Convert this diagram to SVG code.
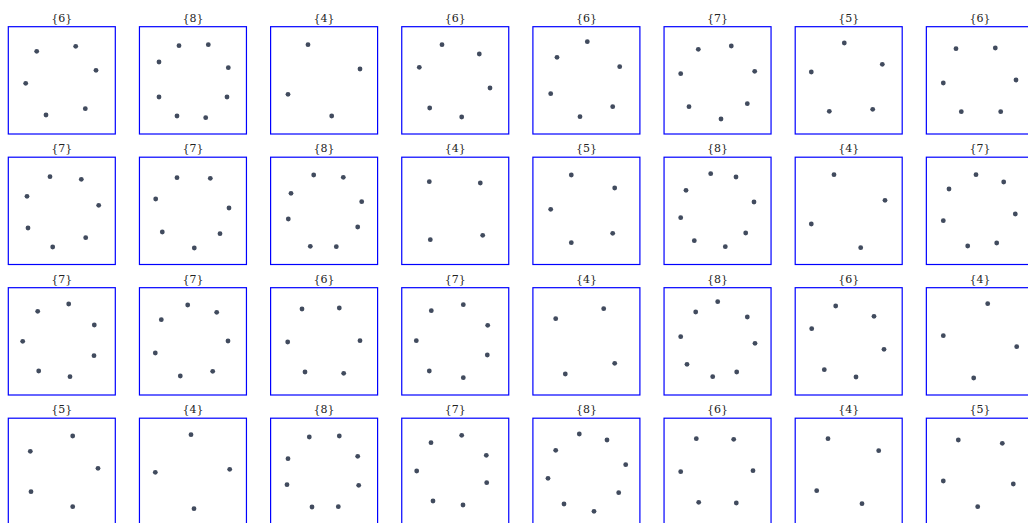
<svg xmlns="http://www.w3.org/2000/svg" width="1028" height="523" viewBox="0 0 1028 523">
<style>
.box{fill:#fff;stroke:#0000ff;stroke-width:1.2}
.lbl{font-family:"DejaVu Serif",serif;font-size:11px;fill:#222;text-anchor:middle}
.d{fill:#414b5e}
</style>
<defs><circle id="p" r="2.4" class="d"/></defs>
<rect width="1028" height="523" fill="#fff"/>
<g id="cell-0-0"><text class="lbl" x="61.8" y="21.7">{6}</text><rect class="box" x="8.3" y="26.7" width="107" height="107.3"/>
<use href="#p" x="36.7" y="51.3"/><use href="#p" x="75.7" y="46.3"/><use href="#p" x="96" y="70.3"/><use href="#p" x="25.7" y="83.3"/><use href="#p" x="85.3" y="108.7"/><use href="#p" x="46" y="115"/></g>
<g id="cell-0-1"><text class="lbl" x="193" y="21.7">{8}</text><rect class="box" x="139.45" y="26.7" width="107" height="107.3"/>
<use href="#p" x="179" y="45.7"/><use href="#p" x="208.3" y="44.7"/><use href="#p" x="159" y="62"/><use href="#p" x="228.3" y="67.7"/><use href="#p" x="159" y="97"/><use href="#p" x="227" y="97"/><use href="#p" x="177" y="116"/><use href="#p" x="205.7" y="117.7"/></g>
<g id="cell-0-2"><text class="lbl" x="324.1" y="21.7">{4}</text><rect class="box" x="270.6" y="26.7" width="107" height="107.3"/>
<use href="#p" x="308" y="44.7"/><use href="#p" x="360" y="69"/><use href="#p" x="288" y="94.3"/><use href="#p" x="331.7" y="116"/></g>
<g id="cell-0-3"><text class="lbl" x="455.3" y="21.7">{6}</text><rect class="box" x="401.75" y="26.7" width="107" height="107.3"/>
<use href="#p" x="442" y="44.7"/><use href="#p" x="479.3" y="54"/><use href="#p" x="419.3" y="67.3"/><use href="#p" x="490" y="88"/><use href="#p" x="429.7" y="108"/><use href="#p" x="461.7" y="117"/></g>
<g id="cell-0-4"><text class="lbl" x="586.4" y="21.7">{6}</text><rect class="box" x="532.9" y="26.7" width="107" height="107.3"/>
<use href="#p" x="587.3" y="41.7"/><use href="#p" x="557" y="57.3"/><use href="#p" x="619.7" y="66.7"/><use href="#p" x="550.7" y="93.7"/><use href="#p" x="612.7" y="106.7"/><use href="#p" x="580" y="116.7"/></g>
<g id="cell-0-5"><text class="lbl" x="717.6" y="21.7">{7}</text><rect class="box" x="664.05" y="26.7" width="107" height="107.3"/>
<use href="#p" x="698.3" y="49.3"/><use href="#p" x="731.3" y="46"/><use href="#p" x="680.7" y="73.7"/><use href="#p" x="754.7" y="71.3"/><use href="#p" x="689" y="106.7"/><use href="#p" x="747.3" y="103.7"/><use href="#p" x="721" y="119"/></g>
<g id="cell-0-6"><text class="lbl" x="848.7" y="21.7">{5}</text><rect class="box" x="795.2" y="26.7" width="107" height="107.3"/>
<use href="#p" x="844.3" y="43"/><use href="#p" x="882.3" y="64.3"/><use href="#p" x="811.3" y="72"/><use href="#p" x="829.3" y="111.3"/><use href="#p" x="872.7" y="109.3"/></g>
<g id="cell-0-7"><text class="lbl" x="979.9" y="21.7">{6}</text><rect class="box" x="926.35" y="26.7" width="107" height="107.3"/>
<use href="#p" x="956" y="48.7"/><use href="#p" x="995.3" y="48"/><use href="#p" x="943.3" y="83"/><use href="#p" x="1016" y="80"/><use href="#p" x="961.3" y="111.7"/><use href="#p" x="1000.7" y="111.7"/></g>

<g id="cell-1-0"><text class="lbl" x="61.8" y="152.2">{7}</text><rect class="box" x="8.3" y="157.2" width="107" height="107.3"/>
<use href="#p" x="50" y="176.7"/><use href="#p" x="81.3" y="179.3"/><use href="#p" x="27" y="196.3"/><use href="#p" x="98.7" y="205.3"/><use href="#p" x="28" y="228"/><use href="#p" x="85.7" y="237.7"/><use href="#p" x="52.7" y="247"/></g>
<g id="cell-1-1"><text class="lbl" x="193" y="152.2">{7}</text><rect class="box" x="139.45" y="157.2" width="107" height="107.3"/>
<use href="#p" x="177" y="177.7"/><use href="#p" x="210.3" y="178.3"/><use href="#p" x="155.7" y="199"/><use href="#p" x="229" y="208"/><use href="#p" x="162.3" y="232"/><use href="#p" x="220" y="233.7"/><use href="#p" x="194.3" y="248"/></g>
<g id="cell-1-2"><text class="lbl" x="324.1" y="152.2">{8}</text><rect class="box" x="270.6" y="157.2" width="107" height="107.3"/>
<use href="#p" x="313.7" y="175"/><use href="#p" x="343.3" y="177.3"/><use href="#p" x="291" y="193.3"/><use href="#p" x="361.7" y="201.7"/><use href="#p" x="288.3" y="219"/><use href="#p" x="357.7" y="227"/><use href="#p" x="310.3" y="246.3"/><use href="#p" x="336.3" y="246.7"/></g>
<g id="cell-1-3"><text class="lbl" x="455.3" y="152.2">{4}</text><rect class="box" x="401.75" y="157.2" width="107" height="107.3"/>
<use href="#p" x="429.3" y="181.7"/><use href="#p" x="480.3" y="183"/><use href="#p" x="430.3" y="239.7"/><use href="#p" x="482.7" y="235.3"/></g>
<g id="cell-1-4"><text class="lbl" x="586.4" y="152.2">{5}</text><rect class="box" x="532.9" y="157.2" width="107" height="107.3"/>
<use href="#p" x="571.3" y="175"/><use href="#p" x="614.7" y="188"/><use href="#p" x="550.7" y="209.3"/><use href="#p" x="612.7" y="233.3"/><use href="#p" x="571.3" y="242.7"/></g>
<g id="cell-1-5"><text class="lbl" x="717.6" y="152.2">{8}</text><rect class="box" x="664.05" y="157.2" width="107" height="107.3"/>
<use href="#p" x="710.7" y="173.7"/><use href="#p" x="736" y="177"/><use href="#p" x="686" y="190.3"/><use href="#p" x="754" y="202"/><use href="#p" x="680.7" y="217.7"/><use href="#p" x="745.7" y="233"/><use href="#p" x="694.3" y="240.7"/><use href="#p" x="725.3" y="246.7"/></g>
<g id="cell-1-6"><text class="lbl" x="848.7" y="152.2">{4}</text><rect class="box" x="795.2" y="157.2" width="107" height="107.3"/>
<use href="#p" x="834" y="174.7"/><use href="#p" x="885" y="200.3"/><use href="#p" x="811.3" y="224"/><use href="#p" x="860.7" y="247.7"/></g>
<g id="cell-1-7"><text class="lbl" x="979.9" y="152.2">{7}</text><rect class="box" x="926.35" y="157.2" width="107" height="107.3"/>
<use href="#p" x="976" y="174.7"/><use href="#p" x="1003.7" y="182"/><use href="#p" x="949" y="189"/><use href="#p" x="1015.3" y="214"/><use href="#p" x="943.3" y="220.7"/><use href="#p" x="967.7" y="246"/><use href="#p" x="996.7" y="243"/></g>

<g id="cell-2-0"><text class="lbl" x="61.8" y="282.7">{7}</text><rect class="box" x="8.3" y="287.7" width="107" height="107.3"/>
<use href="#p" x="68.7" y="304"/><use href="#p" x="37.7" y="311.3"/><use href="#p" x="94.3" y="325"/><use href="#p" x="22.7" y="341.3"/><use href="#p" x="94" y="355.7"/><use href="#p" x="38.7" y="371"/><use href="#p" x="70" y="376.7"/></g>
<g id="cell-2-1"><text class="lbl" x="193" y="282.7">{7}</text><rect class="box" x="139.45" y="287.7" width="107" height="107.3"/>
<use href="#p" x="187.7" y="305"/><use href="#p" x="216.7" y="312.3"/><use href="#p" x="161.3" y="319.7"/><use href="#p" x="228" y="341"/><use href="#p" x="155.3" y="353"/><use href="#p" x="212.7" y="371.3"/><use href="#p" x="180.3" y="376"/></g>
<g id="cell-2-2"><text class="lbl" x="324.1" y="282.7">{6}</text><rect class="box" x="270.6" y="287.7" width="107" height="107.3"/>
<use href="#p" x="302" y="309"/><use href="#p" x="339.3" y="308"/><use href="#p" x="287.7" y="342"/><use href="#p" x="360" y="340.7"/><use href="#p" x="305" y="372"/><use href="#p" x="343.7" y="373.3"/></g>
<g id="cell-2-3"><text class="lbl" x="455.3" y="282.7">{7}</text><rect class="box" x="401.75" y="287.7" width="107" height="107.3"/>
<use href="#p" x="463.3" y="304.7"/><use href="#p" x="431.3" y="310.7"/><use href="#p" x="487.7" y="325.3"/><use href="#p" x="416.3" y="340.7"/><use href="#p" x="487.3" y="355"/><use href="#p" x="429.3" y="371"/><use href="#p" x="463.3" y="377.7"/></g>
<g id="cell-2-4"><text class="lbl" x="586.4" y="282.7">{4}</text><rect class="box" x="532.9" y="287.7" width="107" height="107.3"/>
<use href="#p" x="603.7" y="308.7"/><use href="#p" x="555.7" y="318.7"/><use href="#p" x="614.7" y="363.3"/><use href="#p" x="565.3" y="374"/></g>
<g id="cell-2-5"><text class="lbl" x="717.6" y="282.7">{8}</text><rect class="box" x="664.05" y="287.7" width="107" height="107.3"/>
<use href="#p" x="717.7" y="301.7"/><use href="#p" x="695.7" y="312"/><use href="#p" x="747.3" y="317"/><use href="#p" x="680.7" y="336.7"/><use href="#p" x="755" y="343.3"/><use href="#p" x="687" y="364.3"/><use href="#p" x="736.7" y="372"/><use href="#p" x="712.7" y="376.7"/></g>
<g id="cell-2-6"><text class="lbl" x="848.7" y="282.7">{6}</text><rect class="box" x="795.2" y="287.7" width="107" height="107.3"/>
<use href="#p" x="835.7" y="306"/><use href="#p" x="874" y="316.3"/><use href="#p" x="811.7" y="328.7"/><use href="#p" x="884" y="349.3"/><use href="#p" x="824.3" y="369.7"/><use href="#p" x="856" y="377"/></g>
<g id="cell-2-7"><text class="lbl" x="979.9" y="282.7">{4}</text><rect class="box" x="926.35" y="287.7" width="107" height="107.3"/>
<use href="#p" x="987.7" y="303.7"/><use href="#p" x="943.3" y="335.7"/><use href="#p" x="1016.7" y="346.7"/><use href="#p" x="973.7" y="378"/></g>

<g id="cell-3-0"><text class="lbl" x="61.8" y="413.2">{5}</text><rect class="box" x="8.3" y="418.2" width="107" height="107.3"/>
<use href="#p" x="72.7" y="436"/><use href="#p" x="30.3" y="451.3"/><use href="#p" x="98" y="468.3"/><use href="#p" x="31" y="491.7"/><use href="#p" x="72.7" y="506.7"/></g>
<g id="cell-3-1"><text class="lbl" x="193" y="413.2">{4}</text><rect class="box" x="139.45" y="418.2" width="107" height="107.3"/>
<use href="#p" x="191" y="434.7"/><use href="#p" x="155.3" y="472.3"/><use href="#p" x="229.7" y="469.3"/><use href="#p" x="194" y="508.7"/></g>
<g id="cell-3-2"><text class="lbl" x="324.1" y="413.2">{8}</text><rect class="box" x="270.6" y="418.2" width="107" height="107.3"/>
<use href="#p" x="309.3" y="437"/><use href="#p" x="339.3" y="436"/><use href="#p" x="288" y="458.7"/><use href="#p" x="357.7" y="456.3"/><use href="#p" x="287" y="484.7"/><use href="#p" x="358.7" y="485.3"/><use href="#p" x="312" y="507"/><use href="#p" x="338.3" y="506.7"/></g>
<g id="cell-3-3"><text class="lbl" x="455.3" y="413.2">{7}</text><rect class="box" x="401.75" y="418.2" width="107" height="107.3"/>
<use href="#p" x="461.7" y="435.3"/><use href="#p" x="431" y="442.7"/><use href="#p" x="486.3" y="455.3"/><use href="#p" x="416.7" y="471"/><use href="#p" x="486.7" y="482.7"/><use href="#p" x="433" y="501"/><use href="#p" x="463" y="505"/></g>
<g id="cell-3-4"><text class="lbl" x="586.4" y="413.2">{8}</text><rect class="box" x="532.9" y="418.2" width="107" height="107.3"/>
<use href="#p" x="579.3" y="434"/><use href="#p" x="607" y="440"/><use href="#p" x="555.7" y="450.3"/><use href="#p" x="625.7" y="464.7"/><use href="#p" x="548" y="478.3"/><use href="#p" x="618.7" y="492.7"/><use href="#p" x="564" y="504"/><use href="#p" x="594" y="511.3"/></g>
<g id="cell-3-5"><text class="lbl" x="717.6" y="413.2">{6}</text><rect class="box" x="664.05" y="418.2" width="107" height="107.3"/>
<use href="#p" x="696.3" y="438.7"/><use href="#p" x="733.7" y="439.3"/><use href="#p" x="680.7" y="471.7"/><use href="#p" x="753" y="470.7"/><use href="#p" x="698.7" y="502.3"/><use href="#p" x="736.3" y="503"/></g>
<g id="cell-3-6"><text class="lbl" x="848.7" y="413.2">{4}</text><rect class="box" x="795.2" y="418.2" width="107" height="107.3"/>
<use href="#p" x="828" y="438.7"/><use href="#p" x="878.7" y="450.7"/><use href="#p" x="816.7" y="490.7"/><use href="#p" x="862" y="503.7"/></g>
<g id="cell-3-7"><text class="lbl" x="979.9" y="413.2">{5}</text><rect class="box" x="926.35" y="418.2" width="107" height="107.3"/>
<use href="#p" x="958.3" y="440"/><use href="#p" x="1002.3" y="443.3"/><use href="#p" x="943.3" y="481"/><use href="#p" x="1013.3" y="484"/><use href="#p" x="977.7" y="506.7"/></g>
<g id="connectors"/>
</svg>
